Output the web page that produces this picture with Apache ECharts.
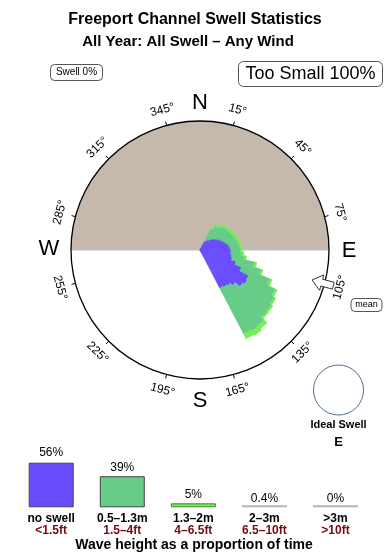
<!DOCTYPE html>
<html><head><meta charset="utf-8">
<script src="https://cdn.jsdelivr.net/npm/echarts@6/dist/echarts.min.js"></script>
<style>html,body{margin:0;padding:0;background:#fff}#c{width:390px;height:560px}</style>
</head><body><div id="c"></div>
<script>
// ---- data ----
const binBearings = [30,35,40,45,50,55,60,65,70,75,80,85,90,95,100,105,110,115,120,125,130,135,140,145,150];
const noSwell     = [10,12,13,15,17,19,21,23,25,27,29,30,31,31,32,33,38,45,55,56,54,48,45,44,43];
const swell05to13 = [14,16,17,17,16,15,14,13,12,11,10,10, 9,11,13,23,26,31,30,32,36,43,50,52,52];
const swell13to2  = [ 2, 2, 2, 2, 2, 2, 2, 2, 2, 2, 2, 1, 2, 2, 2, 2, 2, 2, 2, 2, 2, 2, 4, 5, 5];
const tickBearings = [15,45,75,105,135,165,195,225,255,285,315,345];
const tickLabels = ['15°','45°','75°','105°','135°','165°','195°','225°','255°','285°','315°','345°'];
const compass = [['N',0],['E',90],['S',180],['W',270]];
const meanBearing = 105;
const legendCats = ['no swell','0.5–1.3m','1.3–2m','2–3m','>3m'];
const legendFeet = ['<1.5ft','1.5–4ft','4–6.5ft','6.5–10ft','>10ft'];
const legendPct  = [56,39,5,0.4,0];

const FONT = "'Liberation Sans', Arial, Helvetica, sans-serif";
const CX = 200, CY = 250, R = 129, SCALE_MAX = 129;
const colors = ['#6A4CFF','#66CC88','#77EE55'];

// build 72 five-degree bins
const angleCats = [];
for (let i = 0; i < 72; i++) angleCats.push(String(i*5));
function toBins(arr){
  const out = new Array(72).fill(0);
  binBearings.forEach((b,i)=>{ out[(b/5)%72] = arr[i]; });
  return out;
}
function pt(b, r){ const a=b*Math.PI/180; return [CX + r*Math.sin(a), CY - r*Math.cos(a)]; }

const graphics = [];
// land (upper half)
graphics.push({type:'sector', z:0, shape:{cx:CX, cy:CY, r:R, startAngle:Math.PI, endAngle:2*Math.PI}, style:{fill:'#C4B9AC'}});
graphics.push({type:'line', z:1, shape:{x1:CX-R, y1:CY, x2:CX+R, y2:CY}, style:{stroke:'#A8C6DE', lineWidth:1}});
graphics.push({type:'circle', z:20, shape:{cx:CX, cy:CY, r:R}, style:{fill:null, stroke:'#000', lineWidth:1.3}});
// ticks + degree labels
tickBearings.forEach((b,i)=>{
  const p1 = pt(b, R), p2 = pt(b, R+4);
  graphics.push({type:'line', z:20, shape:{x1:p1[0], y1:p1[1], x2:p2[0], y2:p2[1]}, style:{stroke:'#000', lineWidth:1}});
  let cw = (b < 90) ? b : (b > 270 ? b-360 : b-180);
  const p = pt(b, R+16);
  graphics.push({type:'text', z:20, x:p[0], y:p[1], rotation:-cw*Math.PI/180,
    style:{text:tickLabels[i], font:'12px '+FONT, fill:'#000', align:'center', verticalAlign:'middle'}});
});
// compass letters
const cpos = {N:[200,103], E:[349,251], S:[200,401], W:[49,249]};
compass.forEach(([t])=>{
  graphics.push({type:'text', z:20, x:cpos[t][0], y:cpos[t][1],
    style:{text:t, font:'22px '+FONT, fill:'#000', align:'center', verticalAlign:'middle'}});
});
// mean arrow
(function(){
  const a = meanBearing*Math.PI/180;
  const u=[Math.sin(a), -Math.cos(a)], v=[Math.cos(a), Math.sin(a)];
  const P=(r,w)=>[CX+r*u[0]+w*v[0], CY+r*u[1]+w*v[1]];
  graphics.push({type:'polygon', z:25, shape:{points:[P(116,0),P(126,-8),P(126,-3.5),P(138,-3.5),P(138,3.5),P(126,3.5),P(126,8)]},
    style:{fill:'#fff', stroke:'#333', lineWidth:1}});
})();
graphics.push({type:'rect', z:20, shape:{x:351, y:298.5, width:31, height:13, r:4}, style:{fill:'#fff', stroke:'#555', lineWidth:1}});
graphics.push({type:'text', z:21, x:366.5, y:305, style:{text:'mean', font:'9px '+FONT, fill:'#000', align:'center', verticalAlign:'middle'}});
// boxes at top
graphics.push({type:'rect', z:20, shape:{x:50.5, y:64.5, width:52, height:16, r:4}, style:{fill:'#fff', stroke:'#555', lineWidth:1}});
graphics.push({type:'text', z:21, x:76.5, y:72.5, style:{text:'Swell 0%', font:'10px '+FONT, fill:'#000', align:'center', verticalAlign:'middle'}});
graphics.push({type:'rect', z:20, shape:{x:238.5, y:61.5, width:144, height:25, r:5}, style:{fill:'#fff', stroke:'#555', lineWidth:1}});
graphics.push({type:'text', z:21, x:310.5, y:74.5, style:{text:'Too Small 100%', font:'18px '+FONT, fill:'#000', align:'center', verticalAlign:'middle'}});
// ideal swell
graphics.push({type:'circle', z:20, shape:{cx:338.5, cy:390, r:25}, style:{fill:'#fff', stroke:'#4D6E94', lineWidth:1}});
graphics.push({type:'text', z:21, x:338.5, y:425, style:{text:'Ideal Swell', font:'bold 11px '+FONT, fill:'#000', align:'center', verticalAlign:'middle'}});
graphics.push({type:'text', z:21, x:338.5, y:442.5, style:{text:'E', font:'bold 13px '+FONT, fill:'#000', align:'center', verticalAlign:'middle'}});
// footer
graphics.push({type:'text', z:21, x:194, y:545, style:{text:'Wave height as a proportion of time', font:'bold 14px '+FONT, fill:'#000', align:'center', verticalAlign:'middle'}});
// titles
graphics.push({type:'text', z:21, x:195, y:20, style:{text:'Freeport Channel Swell Statistics', font:'bold 16px '+FONT, fill:'#000', align:'center', verticalAlign:'middle'}});
graphics.push({type:'text', z:21, x:188, y:41.5, style:{text:'All Year: All Swell – Any Wind', font:'bold 15px '+FONT, fill:'#000', align:'center', verticalAlign:'middle'}});

const legendStyles = [
  {color:'#6A4CFF', borderColor:'#444', borderWidth:1},
  {color:'#66CC88', borderColor:'#444', borderWidth:1},
  {color:'#77EE55', borderColor:'#3A8A2A', borderWidth:1},
  {color:'#BDB5AB', borderWidth:0},
  {color:'#BDB5AB', borderWidth:0}
];
const labelDist = [4,3,3,1,1];

const roseSeries = [noSwell, swell05to13, swell13to2].map((arr,i)=>({
  type:'bar', coordinateSystem:'polar', polarIndex:0, stack:'rose', z:5,
  barCategoryGap:'0%', data: toBins(arr),
  itemStyle:{color:colors[i], borderColor:colors[i], borderWidth:0.7}, silent:true, animation:false
}));

const option = {
  animation:false,
  textStyle:{fontFamily:FONT},
  polar:{center:[CX,CY], radius:R},
  angleAxis:{type:'category', data:angleCats, startAngle:92.5, clockwise:true, boundaryGap:true,
    axisLine:{show:false}, axisTick:{show:false}, axisLabel:{show:false}, splitLine:{show:false}, splitArea:{show:false}},
  radiusAxis:{type:'value', min:0, max:SCALE_MAX, axisLine:{show:false}, axisTick:{show:false}, axisLabel:{show:false}, splitLine:{show:false}, splitArea:{show:false}},
  grid:{left:15.66, width:355.4, top:462.7, height:44.6, containLabel:false},
  xAxis:{type:'category', gridIndex:0, data:legendCats, axisLine:{show:false}, axisTick:{show:false},
    axisLabel:{margin:5, interval:0,
      formatter:(v,idx)=>'{a|'+v+'}\n{b|'+legendFeet[idx]+'}',
      rich:{a:{fontFamily:FONT, fontSize:12, fontWeight:'bold', color:'#000', lineHeight:12},
            b:{fontFamily:FONT, fontSize:12, fontWeight:'bold', color:'#7A0A0A', lineHeight:12}}}},
  yAxis:{type:'value', gridIndex:0, min:0, max:56, show:false},
  series: roseSeries.concat([{
    type:'bar', xAxisIndex:0, yAxisIndex:0, barWidth:45, barMinHeight:2,
    data: legendPct.map((p,i)=>({value:p, itemStyle:legendStyles[i], label:{distance:labelDist[i]}})),
    label:{show:true, position:'top', formatter:'{c}%', fontFamily:FONT, fontSize:12, color:'#000'}
  }]),
  graphic: graphics
};
const chart = echarts.init(document.getElementById('c'));
chart.setOption(option);
</script></body></html>
